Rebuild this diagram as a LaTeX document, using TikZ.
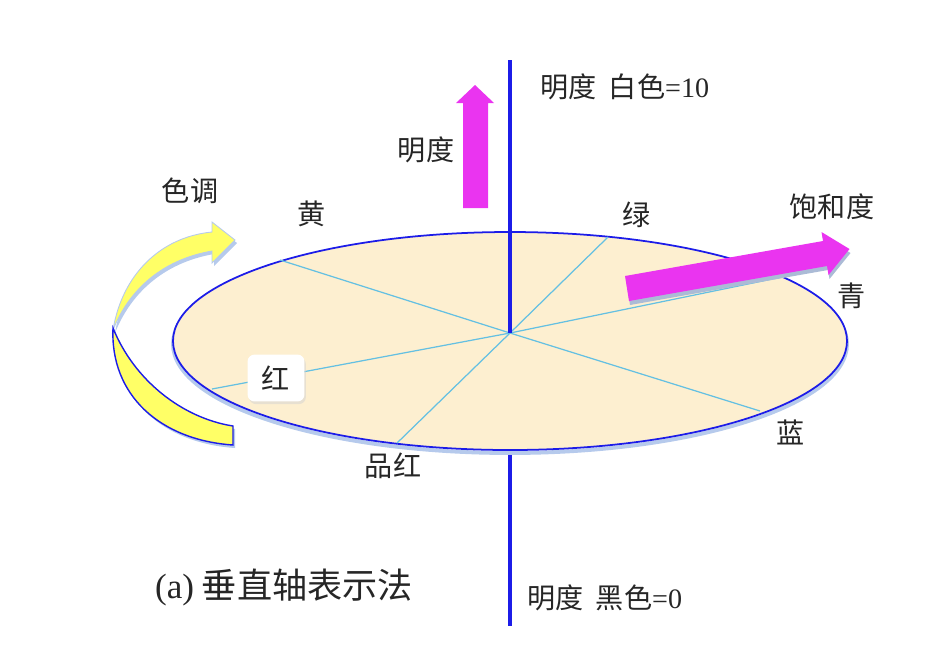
\documentclass[tikz,border=0pt]{standalone}
\usepackage{fontspec}
\setmainfont{Liberation Serif}
\newfontfamily\cjk{Noto Sans CJK SC}
\usepackage{xcolor}
\definecolor{zhou}{RGB}{28,28,232}
\definecolor{pan}{RGB}{253,239,208}
\definecolor{xian}{RGB}{100,192,226}
\definecolor{zihong}{RGB}{234,52,240}
\definecolor{huang}{RGB}{255,255,102}
\definecolor{ying}{RGB}{182,202,236}
\usetikzlibrary{calc,shadows}
\newcommand{\shangdai}{(113,330) .. controls (122,275) and (160,237) .. (212,232) -- (212,222) -- (235,240) -- (212,263) -- (212,251) .. controls (160,260) and (128,292) .. (113,330) -- cycle}
\newcommand{\xiadai}{(113,328) .. controls (110,395) and (160,440) .. (233,445) -- (233,426) .. controls (182,418) and (134,380) .. (113,328) -- cycle}
\newcommand{\baohe}{(625,276) -- (823,241) -- (821.5,232) -- (849.5,249) -- (828.5,275) -- (827,266) -- (629,301) -- cycle}

\begin{document}
\begin{tikzpicture}[x=0.02cm,y=-0.02cm,
    biaoqian/.style={font=\fontsize{16}{19}\selectfont\cjk,text=black!85,inner sep=1pt},
    fuxian/.style={xian,line width=0.7pt}]
  \useasboundingbox (0,0) rectangle (952,664);
  % axis and colour disc
  \coordinate (O) at (510,333);
  \coordinate (Top) at (510,60);
  \coordinate (Bot) at (510,626);
  \draw[zhou,line width=1.8pt] (O) -- (Bot);
  \draw[ying,line width=2.2pt] (510,344) ellipse [x radius=337,y radius=109];
  \draw[zhou,fill=pan,line width=1pt] (510,341) ellipse [x radius=337,y radius=109];
  \coordinate (Yel) at (280,260);
  \coordinate (Grn) at (608,237);
  \coordinate (Cyn) at (782,277);
  \coordinate (Blu) at (760,411);
  \coordinate (Mag) at (397,443);
  \coordinate (Red) at (212,389);
  \foreach \p in {Yel,Grn,Cyn,Blu,Mag,Red}{\draw[fuxian] (O) -- (\p);}
  \node[biaoqian,fill=white,rounded corners=4pt,minimum width=32.4pt,minimum height=26.7pt,
    drop shadow={shadow xshift=0.8pt,shadow yshift=-1.5pt,fill=gray!35}] (lHong) at (276,378) {红};
  % saturation arrow
  \fill[ying!80!gray,shift={(1,4)}] \baohe;
  \fill[zihong] \baohe;
  % upper axis and lightness arrow
  \draw[zhou,line width=1.8pt] (Top) -- (O);
  \fill[zihong] (463,208) -- (463,103) -- (456,103) -- (475,85) -- (494,103) -- (488,103) -- (488,208) -- cycle;
  % hue arrow
  \fill[ying,shift={(2,3)}] \shangdai;
  \fill[huang,draw=ying,line width=0.5pt] \shangdai;
  \fill[ying,shift={(2,3)}] \xiadai;
  \filldraw[fill=huang,draw=zhou,line width=0.8pt] \xiadai;
  % labels
  \node[biaoqian] (lMingdu) at (426,150) {明度};
  \node[biaoqian,anchor=west] (lBai) at (538,87) {明度\hspace{0.45em}白色{\rmfamily =10}};
  \node[biaoqian] (lSediao) at (190,191) {色调};
  \node[biaoqian] (lHuang) at (312,214) {黄};
  \node[biaoqian] (lLv) at (637,215) {绿};
  \node[biaoqian] (lBaohe) at (832,207) {饱和度};
  \node[biaoqian] (lQing) at (852,296) {青};
  \node[biaoqian] (lLan) at (791,432) {蓝};
  \node[biaoqian] (lPinhong) at (393,466) {品红};
  \node[biaoqian,anchor=west] (lHei) at (525,598) {明度\hspace{0.45em}黑色{\rmfamily =0}};
  \node[biaoqian,anchor=west,font=\fontsize{20}{24}\selectfont\cjk] (lTi) at (153,587) {{\rmfamily (a)} 垂直轴表示法};
\end{tikzpicture}
\end{document}
